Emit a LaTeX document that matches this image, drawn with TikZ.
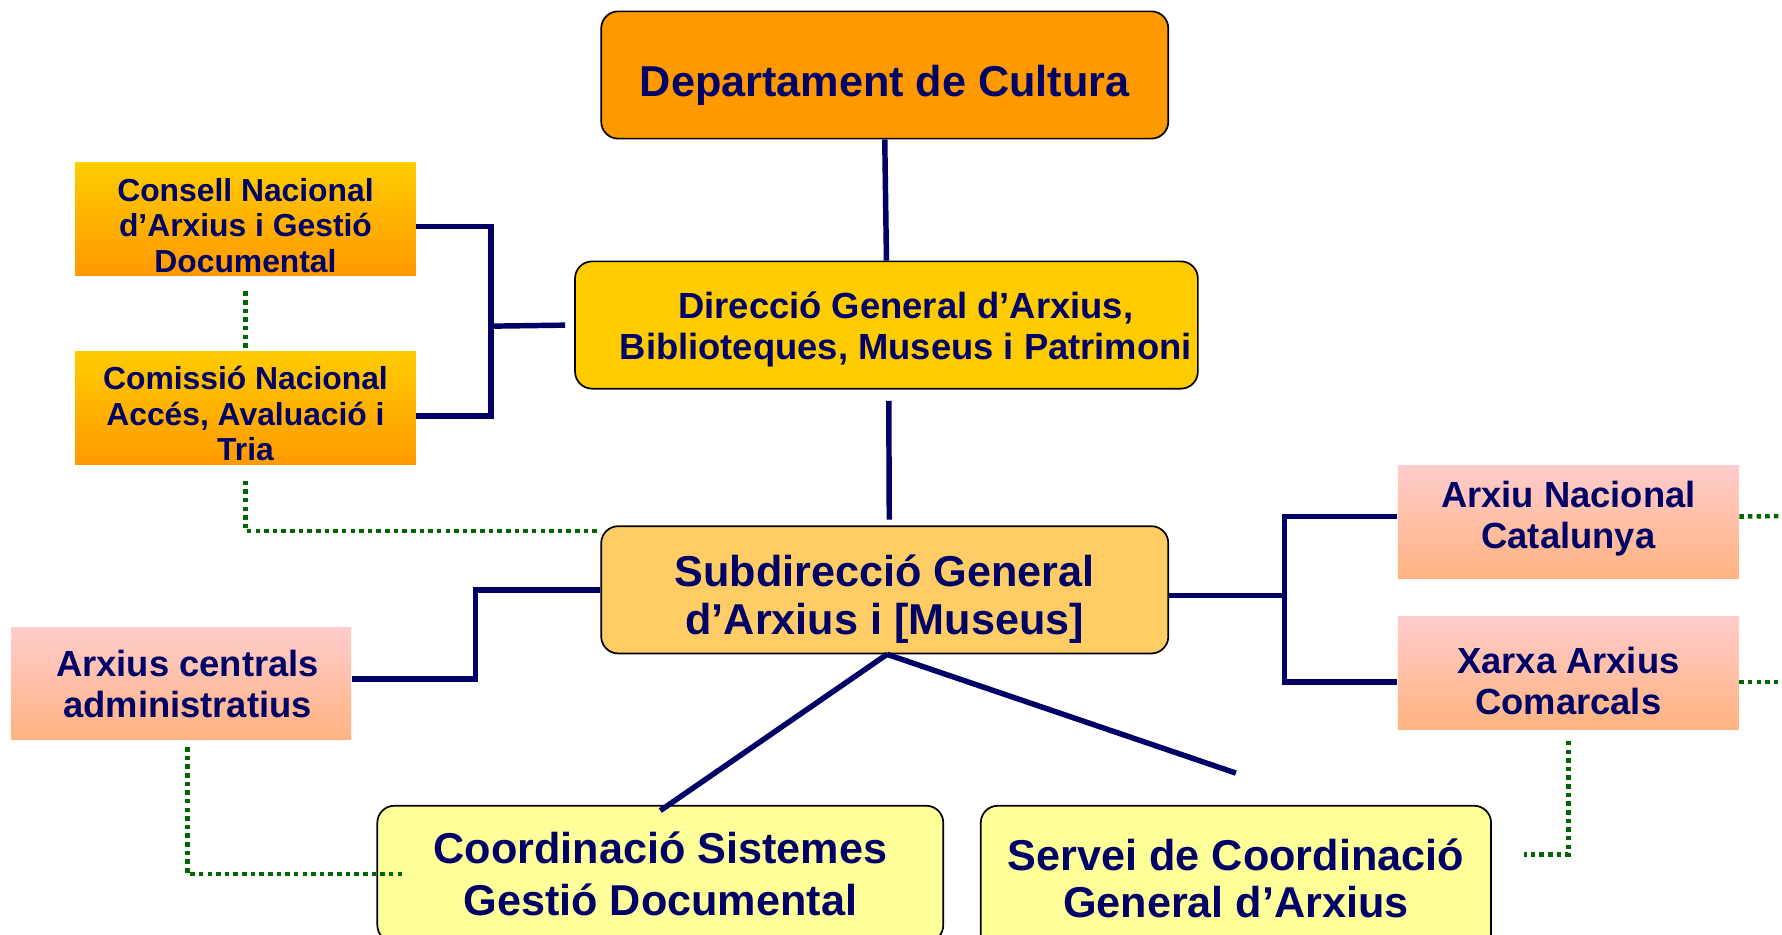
\documentclass[tikz,border=0pt]{standalone}
\usepackage{fontspec}
\setmainfont{Liberation Sans}
\usetikzlibrary{positioning}
\definecolor{textnavy}{HTML}{000066}
\definecolor{linenavy}{HTML}{000066}
\definecolor{dotgreen}{HTML}{006600}
\definecolor{deptorange}{HTML}{FF9900}
\definecolor{diryellow}{HTML}{FFCC00}
\definecolor{subdirorange}{HTML}{FFCC66}
\definecolor{servyellow}{HTML}{FFFF99}
\definecolor{boxpink}{HTML}{FFCCCC}
\definecolor{boxpeach}{HTML}{FFB380}
\tikzset{
  orgbox/.style={draw=black,line width=0.75pt,rounded corners=7.5pt,inner sep=0pt},
  boxlabel/.style={inner sep=0pt,align=center,text=textnavy},
  bigtext/.style={font=\bfseries\fontsize{19}{21}\selectfont},
  midtext/.style={font=\bfseries\fontsize{16}{18}\selectfont},
  smalltext/.style={font=\bfseries\fontsize{14}{15.5}\selectfont},
  councilbox/.style={inner sep=0pt,top color=diryellow,bottom color=deptorange,
    minimum width=150pt,minimum height=49.5pt},
  archivebox/.style={inner sep=0pt,top color=boxpink,bottom color=boxpeach,
    minimum width=150pt,minimum height=49.5pt},
  solidlink/.style={draw=linenavy,line width=2.4pt},
  dotlink/.style={draw=dotgreen,line width=2pt,dash pattern=on 2pt off 1.8pt}
}
\begin{document}
\begin{tikzpicture}[x=0.5pt,y=-0.5pt]
  \clip (0,0) rectangle (1568,822);
  \fill[white] (0,0) rectangle (1568,822);

  % Boxes
  \node[orgbox,fill=deptorange,minimum width=249.5pt,minimum height=56pt] (dept) at (778.5,66) {};
  \node[orgbox,fill=diryellow,minimum width=274pt,minimum height=56pt] (direccio) at (780,286) {};
  \node[orgbox,fill=subdirorange,minimum width=249.5pt,minimum height=56pt] (subdir) at (778.5,519) {};
  \node[orgbox,fill=servyellow,minimum width=249pt,minimum height=60pt] (coord) at (581,769) {};
  \node[orgbox,fill=servyellow,minimum width=224.5pt,minimum height=64pt] (servei) at (1087.5,773) {};
  \node[councilbox] (consell) at (216,192.5) {};
  \node[councilbox] (comissio) at (216,359) {};
  \node[archivebox] (arxiu) at (1380,459.5) {};
  \node[archivebox] (xarxa) at (1380,592) {};
  \node[archivebox,minimum width=149.5pt] (centrals) at (159.5,601.5) {};

  % Texts
  \node[boxlabel,bigtext,yshift=-4.5pt] (dept text) at (dept) {Departament de Cultura};
  \node[boxlabel,midtext,xshift=8.5pt,yshift=-2pt] (direccio text) at (direccio)
    {Direcció General d’Arxius,\\Biblioteques, Museus i Patrimoni};
  \node[boxlabel,bigtext,yshift=-4pt] (subdir text) at (subdir) {Subdirecció General\\d’Arxius i [Museus]};
  \node[boxlabel,font=\bfseries\fontsize{19}{23}\selectfont] (coord text) at (coord)
    {Coordinació Sistemes\\Gestió Documental};
  \node[boxlabel,bigtext] (servei text) at (servei) {Servei de Coordinació\\General d’Arxius};
  \node[boxlabel,smalltext,yshift=-3pt] (consell text) at (consell)
    {Consell Nacional\\d’Arxius i Gestió\\Documental};
  \node[boxlabel,smalltext,yshift=-2.5pt] (comissio text) at (comissio)
    {Comissió Nacional\\Accés, Avaluació i\\Tria};
  \node[boxlabel,midtext,yshift=1.5pt] (arxiu text) at (arxiu) {Arxiu Nacional\\Catalunya};
  \node[boxlabel,midtext,yshift=-3.5pt] (xarxa text) at (xarxa) {Xarxa Arxius\\Comarcals};
  \node[boxlabel,midtext,xshift=2.75pt] (centrals text) at (centrals) {Arxius centrals\\administratius};

  % Lines
  \coordinate (leftjoin) at (432,287);
  \coordinate (rightjoin) at (1130,524);
  \coordinate (offA) at (1575,454);
  \coordinate (offB) at (1575,600);

  \draw[solidlink] (dept.south) -- (direccio.north);
  \draw[solidlink,shorten <=5pt,shorten >=2.5pt] ([xshift=1pt]direccio.south) -- ([xshift=2pt]subdir.north);
  \draw[solidlink] ([yshift=-3.5pt]consell.east) -| (leftjoin) |- ([yshift=-3.5pt]comissio.east);
  \draw[solidlink,shorten >=4pt] (leftjoin) -- (direccio.west);
  \draw[solidlink] (subdir.west) -- ++(-110,0) |- ([yshift=2pt]centrals.east);
  \draw[solidlink] ([yshift=-2.5pt]subdir.east) -- (rightjoin);
  \draw[solidlink] ([yshift=2.5pt]arxiu.west) -| (rightjoin) |- ([yshift=-4pt]xarxa.west);
  \draw[solidlink] ([xshift=1pt]subdir.south) -- ([yshift=-2.5pt]coord.north);
  \draw[solidlink] ([xshift=1pt]subdir.south) -- ([yshift=14pt]servei.north);

  \draw[dotlink,shorten <=7pt,shorten >=1pt] (consell.south) -- (comissio.north);
  \draw[dotlink,shorten <=7pt] (comissio.south) |- ([yshift=-2.5pt]subdir.north west);
  \draw[dotlink,shorten <=3pt] ([xshift=2.75pt]centrals.south) |- ([xshift=11.5pt]coord.west);
  \draw[dotlink] ([yshift=2.5pt]arxiu.east) -- (offA);
  \draw[dotlink] ([yshift=-4pt]xarxa.east) -- (offB);
  \draw[dotlink,shorten <=5pt] (xarxa.south) |- ([xshift=14pt,yshift=10.5pt]servei.east);
\end{tikzpicture}
\end{document}
